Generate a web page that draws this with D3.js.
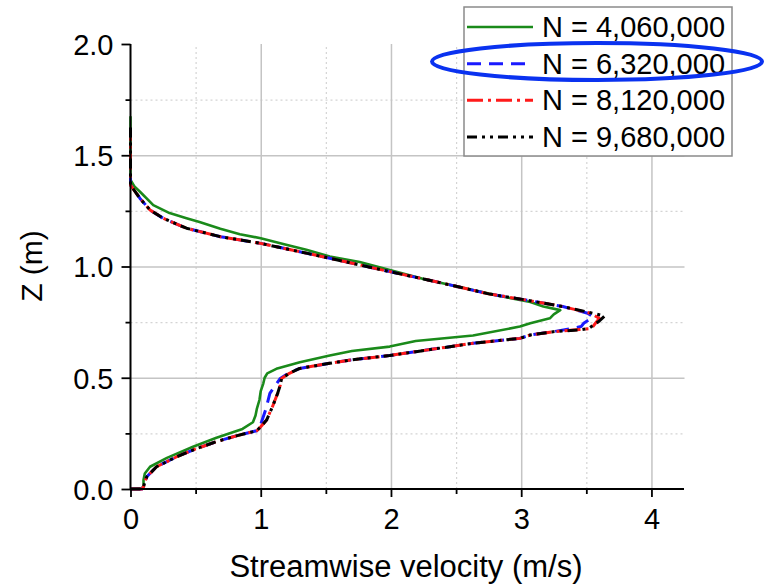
<!DOCTYPE html>
<html>
<head>
<meta charset="utf-8">
<script src="https://cdn.jsdelivr.net/npm/d3@7"></script>
<style>
  body { margin: 0; background: #fff; }
  svg { display: block; font-family: "Liberation Sans", Arial, sans-serif; }
</style>
</head>
<body>
<svg id="chart" width="765" height="585"></svg>
<script>
// mesh sizes (legend labels)
var seriesNames = ["N = 4,060,000", "N = 6,320,000", "N = 8,120,000", "N = 9,680,000"];

// N = 4,060,000 (green)
var zGreen = [0, 0.003, 0.01, 0.04, 0.07, 0.10, 0.14, 0.19, 0.23, 0.27, 0.30, 0.33, 0.36, 0.40, 0.44, 0.475, 0.50, 0.52, 0.54, 0.57, 0.60, 0.62, 0.64, 0.665, 0.69, 0.73, 0.745, 0.767, 0.785, 0.804, 0.82, 0.84, 0.877, 0.911, 0.944, 0.98, 1.02, 1.045, 1.075, 1.10, 1.127, 1.145, 1.17, 1.20, 1.217, 1.24, 1.276, 1.336, 1.36, 1.389, 1.45, 1.55, 1.675];
var uGreen = [0, 0.08, 0.10, 0.10, 0.11, 0.15, 0.28, 0.48, 0.66, 0.86, 0.94, 0.96, 0.97, 0.99, 1.00, 1.02, 1.03, 1.05, 1.12, 1.30, 1.53, 1.70, 1.99, 2.19, 2.63, 2.99, 3.07, 3.22, 3.25, 3.30, 3.17, 3.07, 2.76, 2.50, 2.25, 2.02, 1.76, 1.53, 1.35, 1.18, 1.0, 0.84, 0.69, 0.53, 0.43, 0.30, 0.175, 0.073, 0.03, 0.0, 0.0, 0.0, 0.0];

// N = 6,320,000 (blue)
var zBlue = [0, 0.0, 0.01, 0.03, 0.055, 0.10, 0.145, 0.18, 0.213, 0.24, 0.262, 0.29, 0.36, 0.43, 0.497, 0.52, 0.542, 0.565, 0.58, 0.60, 0.655, 0.677, 0.692, 0.707, 0.722, 0.73, 0.745, 0.76, 0.775, 0.79, 0.82, 0.85, 0.877, 0.911, 0.944, 0.977, 1.007, 1.037, 1.06, 1.104, 1.134, 1.172, 1.217, 1.254, 1.306, 1.366, 1.42, 1.48];
var uBlue = [0, 0.09, 0.10, 0.11, 0.125, 0.20, 0.355, 0.50, 0.66, 0.82, 0.97, 1.0, 1.04, 1.07, 1.15, 1.21, 1.30, 1.53, 1.69, 1.99, 2.63, 2.99, 3.07, 3.245, 3.40, 3.46, 3.48, 3.52, 3.55, 3.51, 3.32, 3.03, 2.75, 2.50, 2.25, 1.99, 1.76, 1.53, 1.35, 1.0, 0.69, 0.43, 0.25, 0.15, 0.073, 0.0, 0.0, 0.0];

// N = 8,120,000 (red)
var zRed = [0, 0.0, 0.01, 0.03, 0.055, 0.10, 0.145, 0.18, 0.213, 0.24, 0.262, 0.28, 0.31, 0.37, 0.43, 0.467, 0.497, 0.52, 0.542, 0.565, 0.58, 0.60, 0.655, 0.677, 0.692, 0.707, 0.717, 0.722, 0.745, 0.767, 0.79, 0.82, 0.85, 0.877, 0.911, 0.944, 0.977, 1.007, 1.037, 1.06, 1.104, 1.134, 1.172, 1.217, 1.254, 1.306, 1.366, 1.45, 1.58];
var uRed = [0, 0.09, 0.10, 0.11, 0.125, 0.20, 0.355, 0.50, 0.66, 0.82, 0.97, 1.0, 1.045, 1.09, 1.13, 1.15, 1.16, 1.22, 1.30, 1.53, 1.69, 1.99, 2.63, 2.99, 3.07, 3.245, 3.45, 3.54, 3.57, 3.60, 3.53, 3.32, 3.03, 2.75, 2.50, 2.25, 1.99, 1.76, 1.53, 1.35, 1.0, 0.69, 0.43, 0.25, 0.15, 0.073, 0.0, 0.0, 0.0];

// N = 9,680,000 (black)
var zBlack = [0, 0.0, 0.01, 0.03, 0.055, 0.10, 0.145, 0.18, 0.213, 0.24, 0.262, 0.28, 0.31, 0.37, 0.43, 0.467, 0.497, 0.52, 0.542, 0.565, 0.58, 0.60, 0.655, 0.677, 0.692, 0.707, 0.715, 0.722, 0.755, 0.777, 0.79, 0.82, 0.85, 0.877, 0.911, 0.944, 0.977, 1.007, 1.037, 1.06, 1.104, 1.134, 1.172, 1.217, 1.254, 1.306, 1.366, 1.50, 1.63];
var uBlack = [0, 0.09, 0.10, 0.11, 0.125, 0.20, 0.355, 0.50, 0.66, 0.82, 0.97, 1.0, 1.045, 1.09, 1.13, 1.15, 1.16, 1.22, 1.30, 1.53, 1.69, 1.99, 2.63, 2.99, 3.07, 3.245, 3.45, 3.52, 3.60, 3.64, 3.55, 3.32, 3.03, 2.75, 2.50, 2.25, 1.99, 1.76, 1.53, 1.35, 1.0, 0.69, 0.43, 0.25, 0.15, 0.073, 0.0, 0.0, 0.0];

var xMajor = [0, 1, 2, 3, 4];
var xMinor = [0.5, 1.5, 2.5, 3.5];
var yMajor = [0, 0.5, 1.0, 1.5, 2.0];
var yMinor = [0.25, 0.75, 1.25, 1.75];

var colors = ["#1a8a1a", "#1a1aff", "#ff1a1a", "#000000"];
var dashes = [null, "14,8", "16,5,3,5", "10,5,3,5,3,5"];

var zip = function(z, u){
  return z.map(function(d, i){ return {z: d, u: u[i]}; });
};
var series = [zip(zGreen, uGreen), zip(zBlue, uBlue), zip(zRed, uRed), zip(zBlack, uBlack)];

var svg = d3.select("#chart");

var xScale = d3.scaleLinear().domain([0, 4.25]).range([130.5, 684]);
var yScale = d3.scaleLinear().domain([0, 2]).range([489, 44]);

// grid lines
var grid = svg.append("g");
grid.append("g")
  .attr("transform", "translate(0,489)")
  .call(d3.axisBottom(xScale).tickValues(xMinor).tickSize(-445).tickFormat(""))
  .call(function(g){ g.select(".domain").remove(); })
  .selectAll("line").attr("stroke", "#d4d4d4").attr("stroke-width", 1.2).attr("stroke-dasharray", "2,3");
grid.append("g")
  .attr("transform", "translate(130.5,0)")
  .call(d3.axisLeft(yScale).tickValues(yMinor).tickSize(-554).tickFormat(""))
  .call(function(g){ g.select(".domain").remove(); })
  .selectAll("line").attr("stroke", "#d4d4d4").attr("stroke-width", 1.2).attr("stroke-dasharray", "2,3");
grid.append("g")
  .attr("transform", "translate(0,489)")
  .call(d3.axisBottom(xScale).tickValues([1, 2, 3, 4]).tickSize(-445).tickFormat(""))
  .call(function(g){ g.select(".domain").remove(); })
  .selectAll("line").attr("stroke", "#c4c4c4").attr("stroke-width", 1.5);
grid.append("g")
  .attr("transform", "translate(130.5,0)")
  .call(d3.axisLeft(yScale).tickValues([0.5, 1.0, 1.5]).tickSize(-554).tickFormat(""))
  .call(function(g){ g.select(".domain").remove(); })
  .selectAll("line").attr("stroke", "#c4c4c4").attr("stroke-width", 1.5);

// curves
var line = d3.line()
  .x(function(d){ return xScale(d.u); })
  .y(function(d){ return yScale(d.z); });

series.forEach(function(data, i){
  svg.append("path")
    .attr("d", line(data))
    .attr("fill", "none")
    .attr("stroke", colors[i])
    .attr("stroke-width", i === 0 ? 2.6 : 3)
    .attr("stroke-dasharray", dashes[i])
    .attr("stroke-linejoin", "round");
});

// axes
var xAxis = svg.append("g")
  .attr("transform", "translate(0,489)")
  .call(d3.axisBottom(xScale).tickValues(xMajor).tickSize(8).tickFormat(d3.format("d")));
xAxis.append("g")
  .call(d3.axisBottom(xScale).tickValues(xMinor).tickSize(5).tickFormat(""))
  .select(".domain").remove();
xAxis.select(".domain").attr("d", "M130.5,0H684").attr("stroke-width", 2);
xAxis.selectAll("line").attr("stroke-width", 1.8);
xAxis.selectAll("text")
  .attr("y", 40).attr("dy", 0)
  .attr("font-size", 29).attr("font-family", "Liberation Sans, Arial, sans-serif").attr("fill", "#000");

var yAxis = svg.append("g")
  .attr("transform", "translate(130.5,0)")
  .call(d3.axisLeft(yScale).tickValues(yMajor).tickSize(9).tickFormat(d3.format(".1f")));
yAxis.append("g")
  .call(d3.axisLeft(yScale).tickValues(yMinor).tickSize(5).tickFormat(""))
  .select(".domain").remove();
yAxis.select(".domain").attr("d", "M0,44V489").attr("stroke-width", 2);
yAxis.selectAll("line").attr("stroke-width", 1.8);
yAxis.selectAll("text")
  .attr("x", -17).attr("dy", "0.36em")
  .attr("font-size", 29).attr("font-family", "Liberation Sans, Arial, sans-serif").attr("fill", "#000");

// axis titles
svg.append("text")
  .attr("x", 406).attr("y", 577)
  .attr("text-anchor", "middle")
  .attr("font-size", 31)
  .text("Streamwise velocity (m/s)");
svg.append("text")
  .attr("transform", "translate(42,266) rotate(-90)")
  .attr("text-anchor", "middle")
  .attr("font-size", 30)
  .text("Z (m)");

// legend
var legend = svg.append("g");
legend.append("rect")
  .attr("x", 464).attr("y", 7).attr("width", 268).attr("height", 149)
  .attr("fill", "#fff").attr("stroke", "#8a8a8a").attr("stroke-width", 1.5);
var rowY = d3.scaleLinear().domain([0, 3]).range([37, 147]);
seriesNames.forEach(function(name, i){
  legend.append("line")
    .attr("x1", 467).attr("x2", 533)
    .attr("y1", rowY(i) - 10).attr("y2", rowY(i) - 10)
    .attr("stroke", colors[i])
    .attr("stroke-width", i === 0 ? 2.6 : 3)
    .attr("stroke-dasharray", dashes[i]);
  legend.append("text")
    .attr("x", 542).attr("y", rowY(i))
    .attr("font-size", 29)
    .text(name);
});

// highlight ellipse around the second legend entry
svg.append("ellipse")
  .attr("cx", 597).attr("cy", 61.5).attr("rx", 165).attr("ry", 18.5)
  .attr("fill", "none").attr("stroke", "#0a32f0").attr("stroke-width", 4);
</script>
</body>
</html>
